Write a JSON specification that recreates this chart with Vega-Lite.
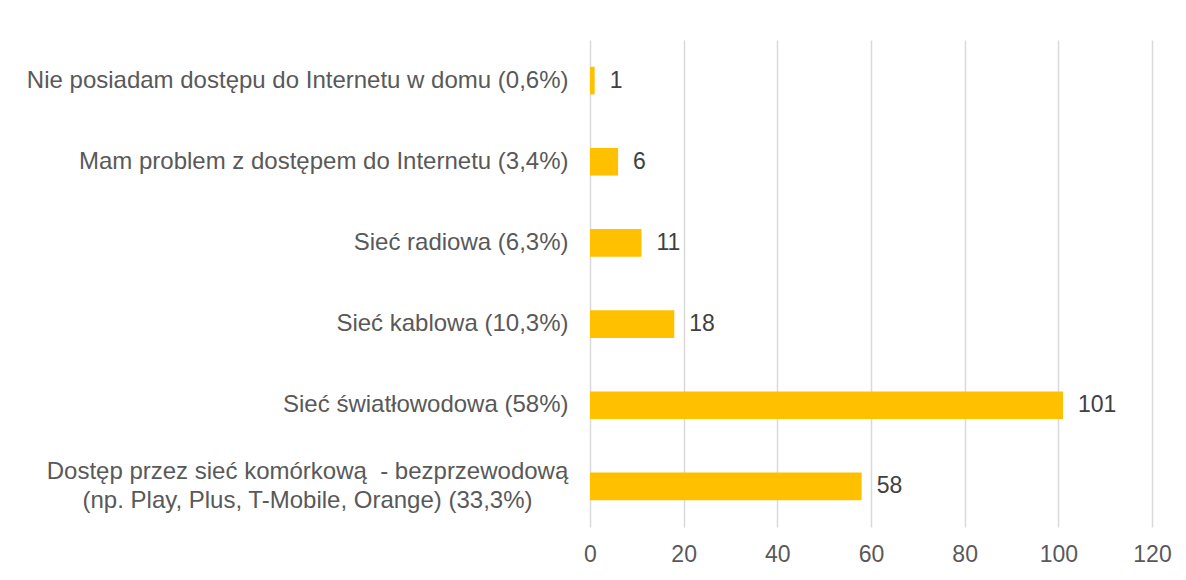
{
  "$schema": "https://vega.github.io/schema/vega-lite/v6.json",
  "width": 562,
  "height": 487,
  "autosize": {"type": "none"},
  "padding": {"left": 590, "top": 40, "right": 34, "bottom": 53},
  "background": "white",
  "config": {"view": {"stroke": null}, "font": "Liberation Sans"},
  "data": {"values": [
    {"label": "Nie posiadam dostępu do Internetu w domu (0,6%)", "value": 1},
    {"label": "Mam problem z dostępem do Internetu (3,4%)", "value": 6},
    {"label": "Sieć radiowa (6,3%)", "value": 11},
    {"label": "Sieć kablowa (10,3%)", "value": 18},
    {"label": "Sieć światłowodowa (58%)", "value": 101},
    {"label": "Dostęp przez sieć komórkową \u00a0- bezprzewodową|(np. Play, Plus, T-Mobile, Orange) (33,3%)", "value": 58}
  ]},
  "encoding": {
    "y": {"field": "label", "type": "nominal", "sort": null,
      "scale": {"paddingInner": 0.66, "paddingOuter": 0.33},
      "axis": {"title": null, "domain": false, "ticks": false, "grid": false,
        "labelExpr": "split(datum.label, '|')",
        "labelFontSize": 24, "labelColor": "#595959", "labelLimit": 700,
        "labelLineHeight": 29,
        "labelAlign": {"condition": {"test": "indexof(datum.label, '|') >= 0", "value": "center"}, "value": "right"},
        "labelPadding": {"condition": {"test": "indexof(datum.label, '|') >= 0", "value": 283}, "value": 22},
        "labelOffset": {"condition": {"test": "indexof(datum.label, '|') >= 0", "value": -14}, "value": 0}
      }
    },
    "x": {"field": "value", "type": "quantitative",
      "scale": {"domain": [0, 120]},
      "axis": {"title": null, "domain": false, "ticks": false, "values": [0, 20, 40, 60, 80, 100, 120],
        "grid": true, "gridColor": "#d9d9d9", "gridWidth": 1.5, "labelFlush": false,
        "labelFontSize": 23, "labelColor": "#595959", "labelPadding": 16}
    }
  },
  "layer": [
    {"mark": {"type": "bar", "color": "#FFC000"}},
    {"mark": {"type": "text", "align": "left", "dx": 15, "fontSize": 23, "color": "#404040"},
     "encoding": {"text": {"field": "value", "type": "quantitative"}}}
  ]
}
